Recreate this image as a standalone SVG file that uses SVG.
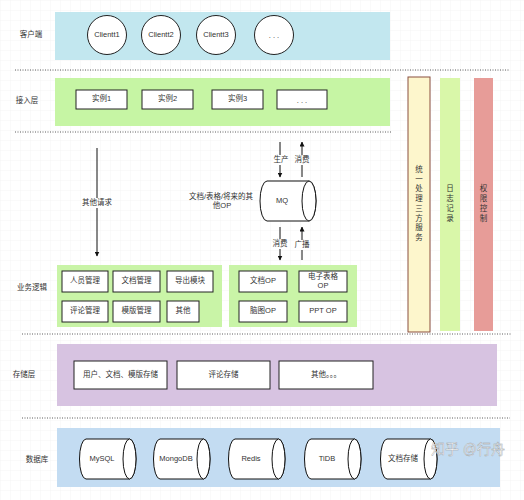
<svg xmlns="http://www.w3.org/2000/svg" width="524" height="500" viewBox="0 0 524 500">
<defs>
<pattern id="grid" width="10" height="10" patternUnits="userSpaceOnUse">
<path d="M10 0 H0 V10" fill="none" stroke="#eeeeee" stroke-width="0.6"/>
</pattern>
<marker id="arr" viewBox="0 0 10 10" refX="9" refY="5" markerWidth="5" markerHeight="5" orient="auto">
<path d="M0 0 L10 5 L0 10 Z" fill="#111"/>
</marker>
<style>
text{font-family:"Liberation Sans","Noto Sans CJK SC",sans-serif;font-size:7.5px;fill:#333;text-anchor:middle;dominant-baseline:middle}
.box{fill:#fff;stroke:#222;stroke-width:1}
.band{stroke:none}
.dot{stroke:#333;stroke-width:0.8;stroke-dasharray:1 1.5;fill:none}
.cyl{fill:#fff;stroke:#111;stroke-width:1}
.ln{stroke:#111;stroke-width:1;fill:none;marker-end:url(#arr)}
</style>
</defs>
<rect width="524" height="500" fill="#fff"/>
<rect width="524" height="500" fill="url(#grid)"/>

<g id="separators">
<line class="dot" x1="15" y1="70" x2="510" y2="70"/>
<line class="dot" x1="15" y1="132" x2="392" y2="132"/>
<line class="dot" x1="22" y1="334" x2="512" y2="334"/>
<line class="dot" x1="22" y1="418" x2="510" y2="418"/>
</g>

<g id="layer-labels">
<text x="31" y="35">客户端</text>
<text x="27" y="101">接入层</text>
<text x="32" y="288">业务逻辑</text>
<text x="24" y="375">存储层</text>
<text x="37" y="460">数据库</text>
</g>

<g id="client-layer">
<rect class="band" x="55" y="12" width="335" height="48" fill="#c2e7ef"/>
<g id="client1"><circle class="box" cx="107" cy="35" r="19.5"/><text x="107" y="35">Clientt1</text></g>
<g id="client2"><circle class="box" cx="161" cy="35" r="19.5"/><text x="161" y="35">Clientt2</text></g>
<g id="client3"><circle class="box" cx="216" cy="35" r="19.5"/><text x="216" y="35">Clientt3</text></g>
<g id="client-more"><circle class="box" cx="274" cy="35" r="19.5"/><text x="274" y="36">. . .</text></g>
</g>

<g id="access-layer">
<rect class="band" x="55" y="78" width="335" height="48" fill="#c6f5a4"/>
<g id="inst1"><rect class="box" x="76" y="90" width="51" height="19"/><text x="101.5" y="99.5">实例1</text></g>
<g id="inst2"><rect class="box" x="142" y="90" width="51" height="19"/><text x="167.5" y="99.5">实例2</text></g>
<g id="inst3"><rect class="box" x="212" y="90" width="51" height="19"/><text x="237.5" y="99.5">实例3</text></g>
<g id="inst-more"><rect class="box" x="277" y="90" width="50" height="19"/><text x="302" y="101">. . .</text></g>
</g>

<g id="unified-service">
<rect x="408" y="77" width="22" height="255" fill="#fdf6cc" stroke="#8a4f3f" stroke-width="1"/>
<text x="419" y="170"><tspan x="419" dy="0">统</tspan><tspan x="419" dy="9.7">一</tspan><tspan x="419" dy="9.7">处</tspan><tspan x="419" dy="9.7">理</tspan><tspan x="419" dy="9.7">三</tspan><tspan x="419" dy="9.7">方</tspan><tspan x="419" dy="9.7">服</tspan><tspan x="419" dy="9.7">务</tspan></text>
</g>
<g id="logging">
<rect x="440" y="78" width="20" height="253" fill="#d9f7a9"/>
<text x="450" y="189"><tspan x="450" dy="0">日</tspan><tspan x="450" dy="10">志</tspan><tspan x="450" dy="10">记</tspan><tspan x="450" dy="10">录</tspan></text>
</g>
<g id="permission">
<rect x="474" y="78" width="19" height="253" fill="#e79c98"/>
<text x="483.5" y="189"><tspan x="483.5" dy="0">权</tspan><tspan x="483.5" dy="10">限</tspan><tspan x="483.5" dy="10">控</tspan><tspan x="483.5" dy="10">制</tspan></text>
</g>

<g id="mq">
<path class="cyl" d="M267 181 H309 A7 20 0 0 1 309 221 H267 A7 20 0 0 1 267 181 Z"/>
<ellipse class="cyl" cx="309" cy="201" rx="7" ry="20"/>
<text x="282" y="201">MQ</text>
</g>
<g id="mq-label">
<text x="221" y="197">文档/表格/将来的其</text>
<text x="222" y="206.5">他OP</text>
</g>

<g id="business-left">
<rect class="band" x="57" y="265" width="165" height="62" fill="#c9f4a7"/>
<g id="b1"><rect class="box" x="62" y="271" width="46" height="21"/><text x="85" y="281.5">人员管理</text></g>
<g id="b2"><rect class="box" x="113" y="271" width="47" height="21"/><text x="136.5" y="281.5">文档管理</text></g>
<g id="b3"><rect class="box" x="167" y="271" width="46" height="21"/><text x="190" y="281.5">导出模块</text></g>
<g id="b4"><rect class="box" x="62" y="301" width="46" height="21"/><text x="85" y="311.5">评论管理</text></g>
<g id="b5"><rect class="box" x="113" y="301" width="47" height="21"/><text x="136.5" y="311.5">模版管理</text></g>
<g id="b6"><rect class="box" x="167" y="301" width="32" height="21"/><text x="183" y="311.5">其他</text></g>
</g>

<g id="business-right">
<rect class="band" x="229" y="265" width="128" height="62" fill="#c9f4a7"/>
<g id="op1"><rect class="box" x="239" y="271" width="48" height="21"/><text x="263" y="281.5">文档OP</text></g>
<g id="op2"><rect class="box" x="299" y="271" width="48" height="21"/><text x="323" y="277">电子表格</text><text x="323" y="286">OP</text></g>
<g id="op3"><rect class="box" x="239" y="301" width="48" height="21"/><text x="263" y="311.5">脑图OP</text></g>
<g id="op4"><rect class="box" x="299" y="301" width="48" height="21"/><text x="323" y="311.5">PPT OP</text></g>
</g>

<g id="storage-layer">
<rect class="band" x="57" y="344" width="440" height="62" fill="#d7c3e1"/>
<g id="s1"><rect class="box" x="74" y="361" width="93" height="28"/><text x="120.5" y="375">用户、文档、模版存储</text></g>
<g id="s2"><rect class="box" x="177" y="361" width="93" height="28"/><text x="223.5" y="375">评论存储</text></g>
<g id="s3"><rect class="box" x="279" y="361" width="94" height="28"/><text x="326" y="375">其他。。。</text></g>
</g>

<g id="database-layer">
<rect class="band" x="57" y="428" width="443" height="59" fill="#c3dcf2"/>
<g id="db-mysql"><path class="cyl" d="M86 439 H129.5 A6.5 20 0 0 1 129.5 479 H86 A6.5 20 0 0 1 86 439 Z"/><ellipse class="cyl" cx="129.5" cy="459" rx="6.5" ry="20"/><text x="102" y="459">MySQL</text></g>
<g id="db-mongo"><path class="cyl" d="M160 439 H203.5 A6.5 20 0 0 1 203.5 479 H160 A6.5 20 0 0 1 160 439 Z"/><ellipse class="cyl" cx="203.5" cy="459" rx="6.5" ry="20"/><text x="176" y="459">MongoDB</text></g>
<g id="db-redis"><path class="cyl" d="M235 439 H278.5 A6.5 20 0 0 1 278.5 479 H235 A6.5 20 0 0 1 235 439 Z"/><ellipse class="cyl" cx="278.5" cy="459" rx="6.5" ry="20"/><text x="251" y="459">Redis</text></g>
<g id="db-tidb"><path class="cyl" d="M311 439 H354.5 A6.5 20 0 0 1 354.5 479 H311 A6.5 20 0 0 1 311 439 Z"/><ellipse class="cyl" cx="354.5" cy="459" rx="6.5" ry="20"/><text x="327" y="459">TiDB</text></g>
<g id="db-doc"><path class="cyl" d="M387 439 H430.5 A6.5 20 0 0 1 430.5 479 H387 A6.5 20 0 0 1 387 439 Z"/><ellipse class="cyl" cx="430.5" cy="459" rx="6.5" ry="20"/><text x="403" y="459">文档存储</text></g>
</g>

<g id="connectors">
<line class="ln" x1="97" y1="148" x2="97" y2="256"/>
<line class="ln" x1="280" y1="142" x2="280" y2="177"/>
<line class="ln" x1="302" y1="177" x2="302" y2="142"/>
<line class="ln" x1="280" y1="227" x2="280" y2="260"/>
<line class="ln" x1="302" y1="260" x2="302" y2="227"/>
<rect x="86" y="198" width="22" height="10" fill="#fff"/>
<text x="97" y="203">其他请求</text>
<rect x="273" y="155" width="15" height="10" fill="#fff"/>
<text x="281" y="160">生产</text>
<rect x="295" y="155" width="15" height="10" fill="#fff"/>
<text x="302" y="160">消费</text>
<rect x="273" y="239" width="15" height="10" fill="#fff"/>
<text x="280" y="244">消费</text>
<rect x="295" y="240" width="15" height="10" fill="#fff"/>
<text x="302" y="245">广播</text>
</g>

<g id="watermark">
<text x="468" y="450" style="font-size:14px;fill:#fff;stroke:#999;stroke-width:0.4;opacity:0.9">知乎 @行舟</text>
</g>
</svg>
